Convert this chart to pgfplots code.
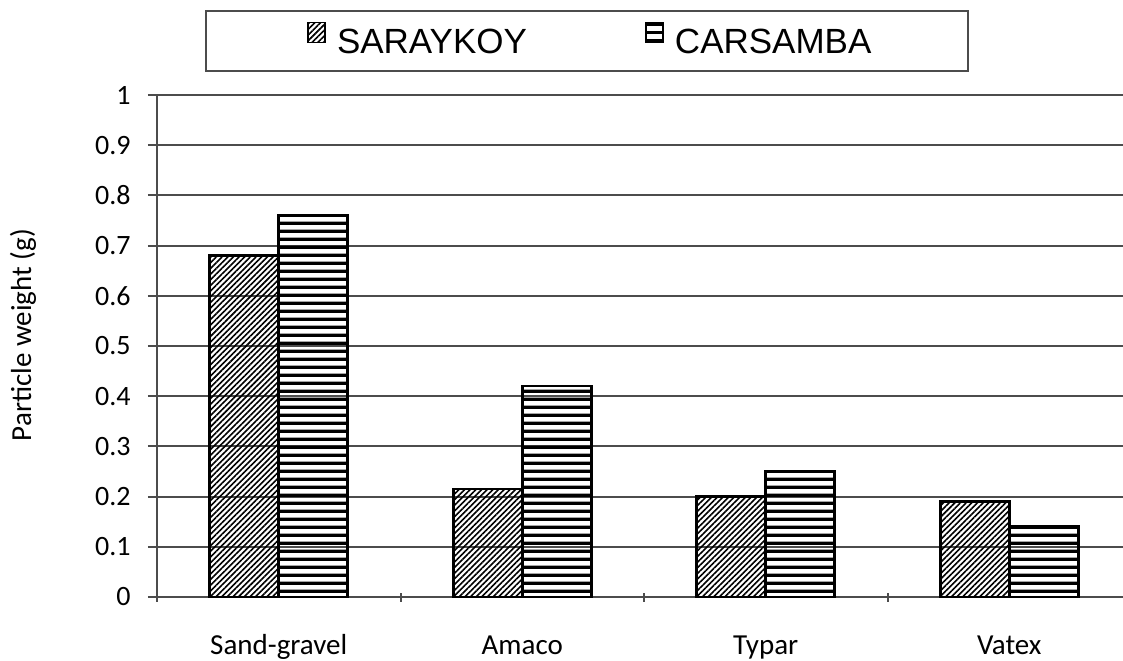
\documentclass[border=0pt]{standalone}
\usepackage{pgfplots}
\pgfplotsset{compat=1.18}
\usetikzlibrary{patterns.meta}
\usepackage{fontspec}
\setmainfont{Carlito}
\newfontfamily\legendfont{Liberation Sans}

% horizontal stripes on a very wide tile, so no tile seams fall inside a bar
\pgfdeclarepatternformonly{hstripes}{\pgfpointorigin}{\pgfpoint{600pt}{4.1pt}}{\pgfpoint{600pt}{4.1pt}}{%
  \pgfpathrectangle{\pgfpoint{0pt}{1.2pt}}{\pgfpoint{600pt}{1.8pt}}\pgfusepath{fill}}

\pgfplotstableread{
idx saraykoy carsamba
0   0.68     0.76
1   0.215    0.42
2   0.20     0.25
3   0.19     0.14
}\weights

\begin{document}
\begin{tikzpicture}
\begin{axis}[
  scale only axis,
  width=487pt, height=251pt,
  xmin=-0.5, xmax=3.5, ymin=0, ymax=1,
  axis x line=bottom, axis y line=left,
  axis line style={-, line width=1pt, draw=black!70},
  tick style={line width=1pt, draw=black!70},
  major tick length=4.5pt,
  xtick align=center, ytick align=outside,
  xtick={-0.5,0.5,1.5,2.5},
  xticklabels={Sand-gravel,Amaco,Typar,Vatex},
  xticklabel style={xshift=60.875pt, inner sep=0pt, text height=10pt, text depth=3pt, yshift=-16.5pt,
    font=\fontsize{14.5}{17}\selectfont},
  ytick={0,0.1,0.2,0.3,0.4,0.5,0.6,0.7,0.8,0.9,1},
  yticklabels={0,0.1,0.2,0.3,0.4,0.5,0.6,0.7,0.8,0.9,1},
  yticklabel style={inner sep=0pt, xshift=-8.5pt, font=\fontsize{14}{16}\selectfont},
  ymajorgrids,
  grid style={line width=1pt, draw=black!70},
  ylabel={Particle weight (g)},
  ylabel style={at={(axis description cs:-0.1376,0.522)}, anchor=center, font=\fontsize{14.5}{17}\selectfont},
  /pgf/number format/assume math mode=true,
  legend columns=2,
  legend style={at={(axis description cs:0.0493,1.1693)}, anchor=north west,
    draw=black!70, line width=1pt, inner xsep=48.5pt, inner ysep=5.5pt,
    font=\legendfont\fontsize{17.5}{20}\selectfont,
    nodes={inner xsep=0pt},
    /tikz/every even column/.append style={column sep=57pt}},
  legend image code/.code={%
    \draw[#1,line width=0.7pt] (2.5pt,0pt) rectangle (11pt,10pt);
    \path[draw=none,fill=none,pattern=none] (0pt,0pt) -- (17pt,0pt);},
]
\addplot[ybar, bar width=34.5pt, bar shift=-17.25pt, draw=black, line width=1.3pt,
  pattern={Lines[angle=45,distance=2pt,line width=0.8pt]}, pattern color=black]
  table[x=idx, y=saraykoy] {\weights};
\addlegendentry{SARAYKOY}
\addplot[ybar, bar width=34.5pt, bar shift=17.25pt, draw=black, line width=1.3pt,
  pattern=hstripes, pattern color=black]
  table[x=idx, y=carsamba] {\weights};
\addlegendentry{CARSAMBA}
\end{axis}
\pgfresetboundingbox
\useasboundingbox (-78.5pt,-31.5pt) rectangle (483pt,298.5pt);
\end{tikzpicture}
\end{document}
